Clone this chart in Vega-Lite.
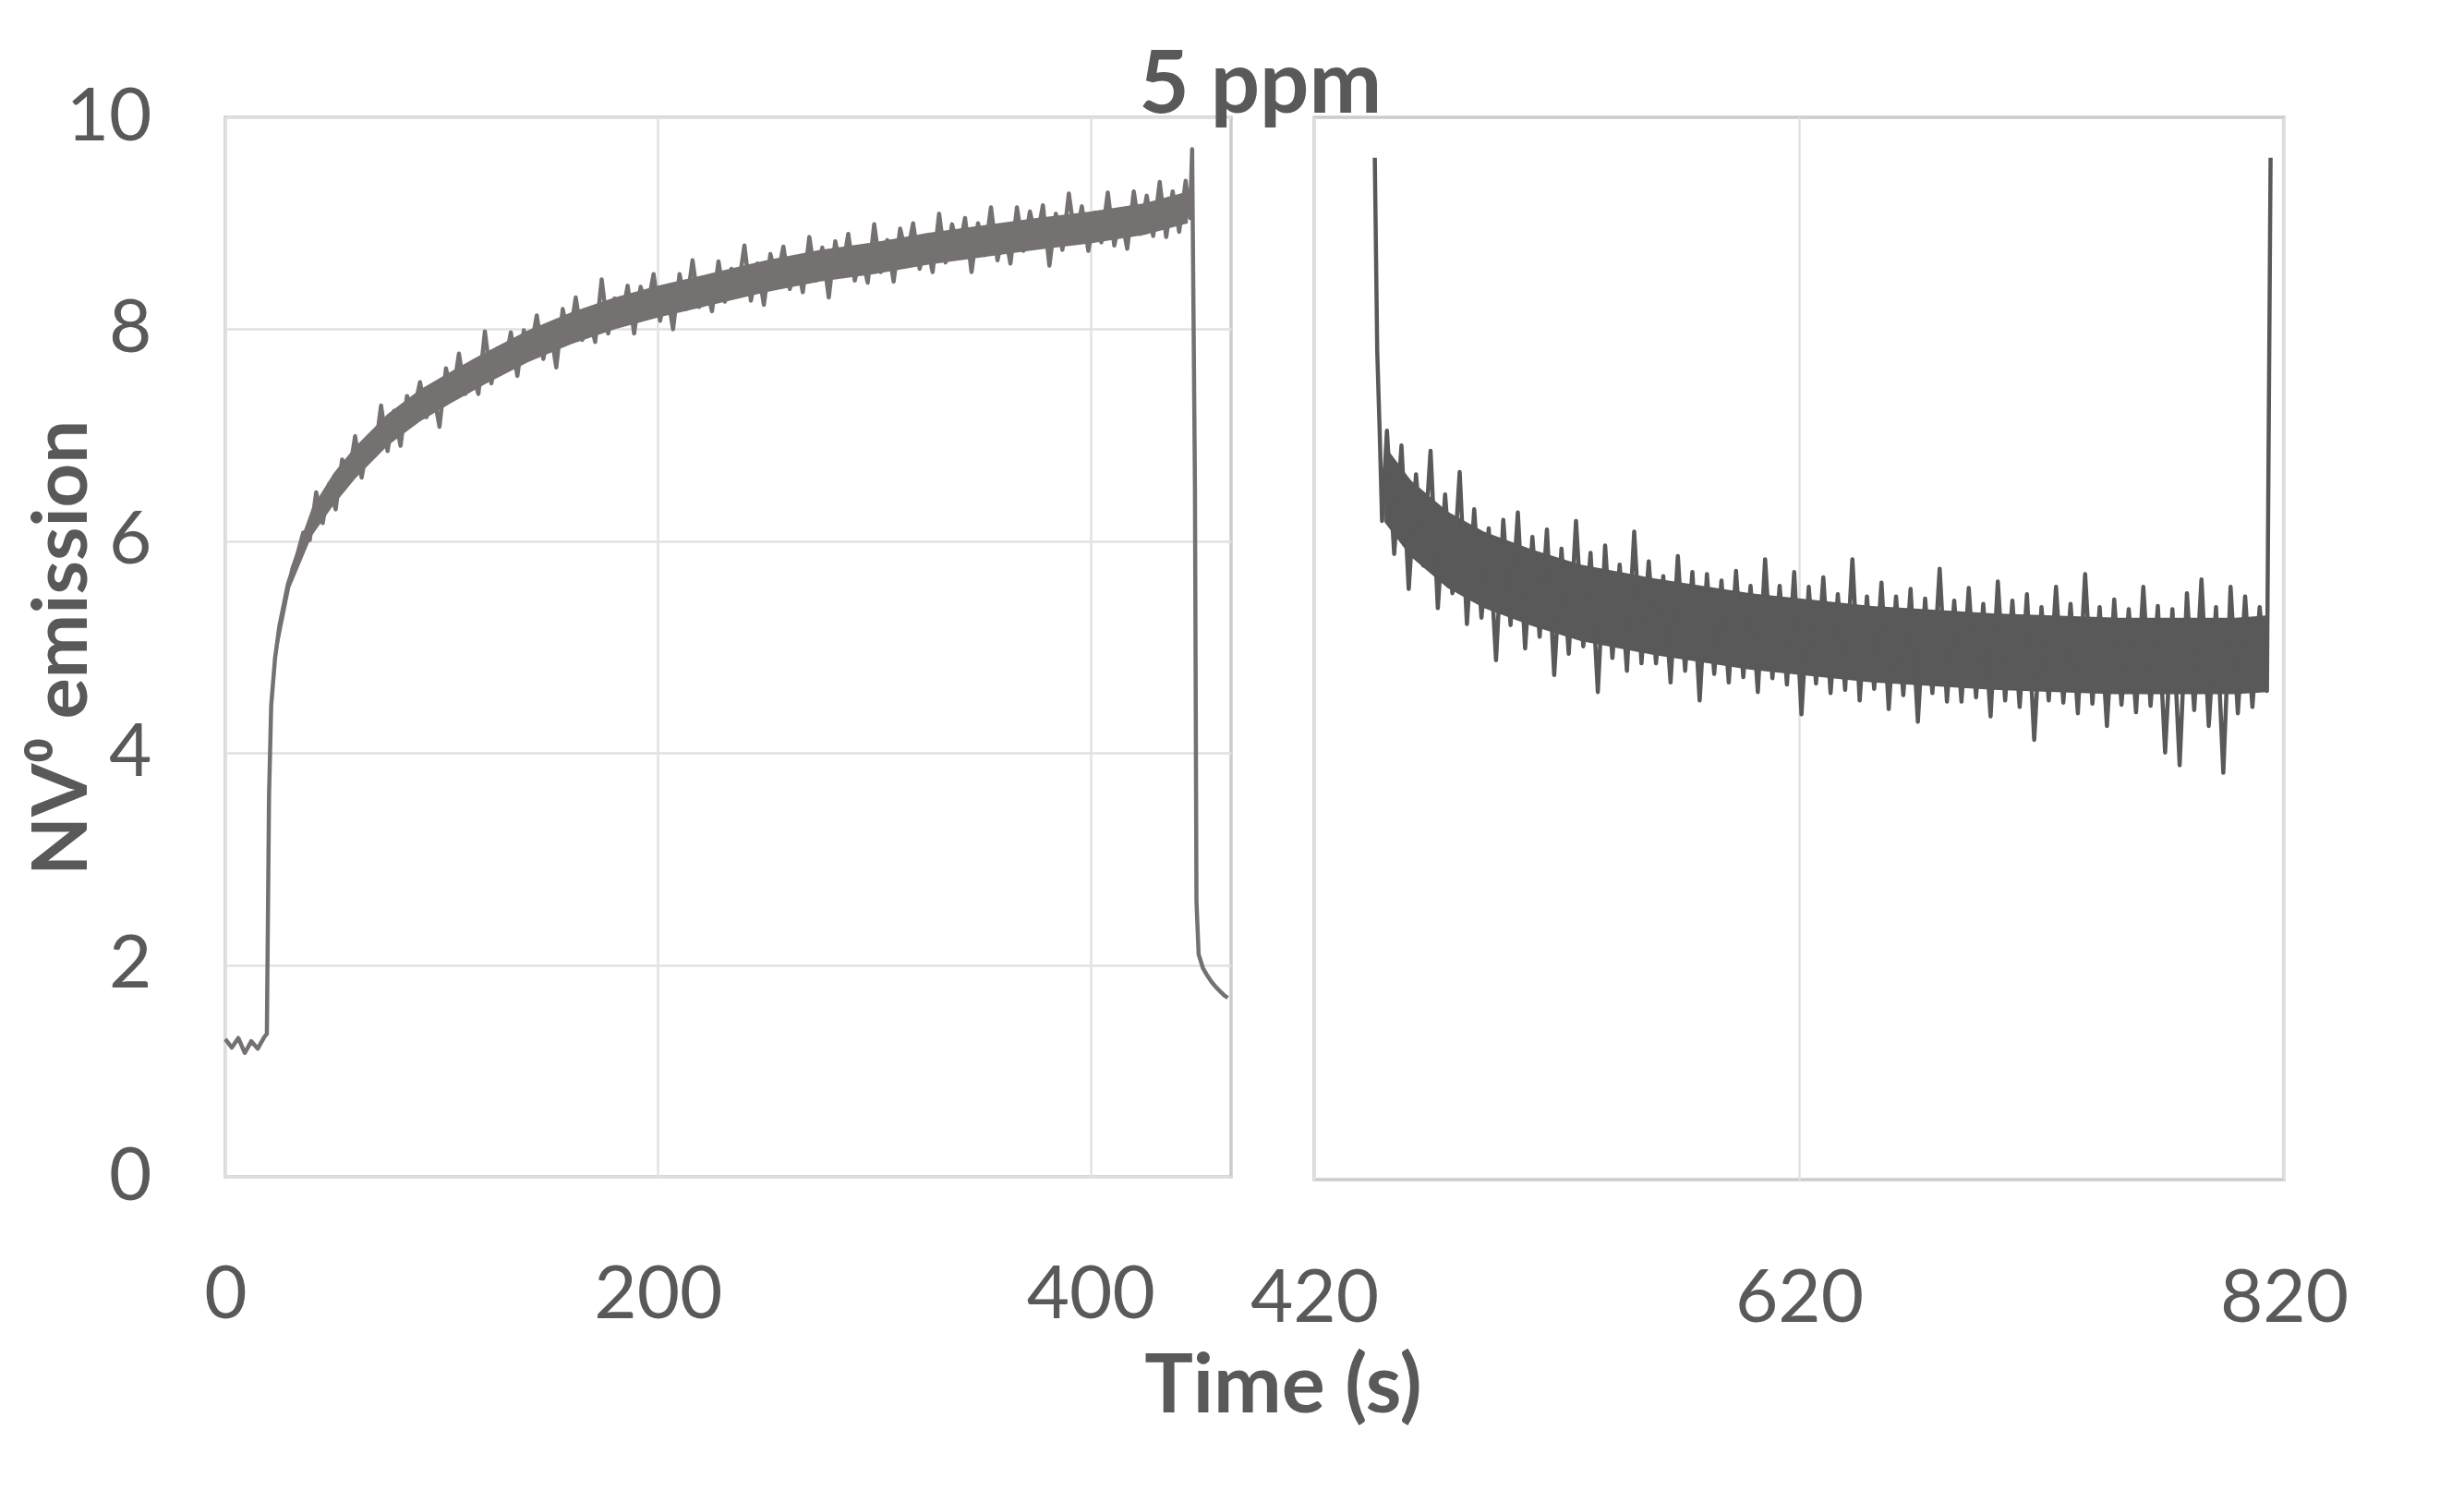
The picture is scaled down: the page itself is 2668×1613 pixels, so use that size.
{
  "$schema": "https://vega.github.io/schema/vega-lite/v6.json",
  "background": "white",
  "padding": {"left": 25, "top": 47, "right": 10, "bottom": 10},
  "config": {
    "font": "Lato",
    "view": {"stroke": "#cccccc", "strokeWidth": 3.5},
    "axis": {
      "labelFont": "Lato",
      "labelFontSize": 80,
      "labelColor": "#595959",
      "titleFont": "Lato",
      "titleColor": "#595959",
      "titleFontWeight": "bold",
      "titleFontSize": 88,
      "gridColor": "#e2e2e2",
      "gridWidth": 2.5,
      "domain": false,
      "ticks": false,
      "tickSize": 0
    }
  },
  "title": {
    "text": "5 ppm",
    "anchor": "middle",
    "fontSize": 94,
    "fontWeight": "bold",
    "color": "#595959",
    "font": "Lato",
    "baseline": "alphabetic",
    "offset": -131,
    "dx": 80
  },
  "datasets": {
    "leftBand": [
      {"t": 23, "v": 4.85, "v2": 4.95}, {"t": 30, "v": 5.56, "v2": 5.74},
      {"t": 40, "v": 6.05, "v2": 6.31}, {"t": 50, "v": 6.34, "v2": 6.64},
      {"t": 60, "v": 6.59, "v2": 6.89}, {"t": 75, "v": 6.9, "v2": 7.2},
      {"t": 90, "v": 7.13, "v2": 7.43}, {"t": 105, "v": 7.31, "v2": 7.61},
      {"t": 120, "v": 7.48, "v2": 7.78}, {"t": 140, "v": 7.69, "v2": 7.99},
      {"t": 160, "v": 7.86, "v2": 8.16}, {"t": 180, "v": 8.0, "v2": 8.3},
      {"t": 200, "v": 8.11, "v2": 8.41}, {"t": 225, "v": 8.23, "v2": 8.53},
      {"t": 250, "v": 8.35, "v2": 8.65}, {"t": 275, "v": 8.45, "v2": 8.75},
      {"t": 300, "v": 8.52, "v2": 8.82}, {"t": 325, "v": 8.61, "v2": 8.91},
      {"t": 350, "v": 8.68, "v2": 8.98}, {"t": 375, "v": 8.75, "v2": 9.05},
      {"t": 400, "v": 8.81, "v2": 9.11}, {"t": 425, "v": 8.89, "v2": 9.19},
      {"t": 445, "v": 9.0, "v2": 9.3}
    ],
    "rightBand": [
      {"t": 449, "v": 6.19, "v2": 6.91}, {"t": 460, "v": 5.86, "v2": 6.58},
      {"t": 475, "v": 5.57, "v2": 6.29}, {"t": 490, "v": 5.38, "v2": 6.1},
      {"t": 510, "v": 5.21, "v2": 5.93}, {"t": 530, "v": 5.07, "v2": 5.79},
      {"t": 560, "v": 4.94, "v2": 5.66}, {"t": 600, "v": 4.8, "v2": 5.52},
      {"t": 650, "v": 4.68, "v2": 5.4}, {"t": 700, "v": 4.61, "v2": 5.33},
      {"t": 750, "v": 4.57, "v2": 5.29}, {"t": 800, "v": 4.57, "v2": 5.29},
      {"t": 813, "v": 4.59, "v2": 5.31}
    ],
    "left": [
      {"t": 0, "v": 1.30}, {"t": 3, "v": 1.22}, {"t": 6, "v": 1.31}, {"t": 9, "v": 1.17},
      {"t": 12, "v": 1.28}, {"t": 15, "v": 1.21}, {"t": 18, "v": 1.32}, {"t": 19.2, "v": 1.35},
      {"t": 20.2, "v": 3.6}, {"t": 21.2, "v": 4.45}, {"t": 23, "v": 4.9}, {"t": 25, "v": 5.2},
      {"t": 27, "v": 5.4}, {"t": 29, "v": 5.6}, {"t": 31, "v": 5.72}, {"t": 33, "v": 5.85},
      {"t": 36, "v": 6.08}, {"t": 39, "v": 6.01}, {"t": 42, "v": 6.46}, {"t": 45, "v": 6.17},
      {"t": 48, "v": 6.54}, {"t": 51, "v": 6.30}, {"t": 54, "v": 6.77}, {"t": 57, "v": 6.6},
      {"t": 60, "v": 6.99}, {"t": 63, "v": 6.6}, {"t": 66, "v": 6.94}, {"t": 69, "v": 6.81},
      {"t": 72, "v": 7.28}, {"t": 75, "v": 6.85}, {"t": 78, "v": 7.23}, {"t": 81, "v": 6.9},
      {"t": 84, "v": 7.37}, {"t": 87, "v": 7.21}, {"t": 90, "v": 7.5}, {"t": 93, "v": 7.17},
      {"t": 96, "v": 7.43}, {"t": 99, "v": 7.08}, {"t": 102, "v": 7.63}, {"t": 105, "v": 7.36},
      {"t": 108, "v": 7.77}, {"t": 111, "v": 7.39}, {"t": 114, "v": 7.6}, {"t": 117, "v": 7.39},
      {"t": 120, "v": 7.98}, {"t": 123, "v": 7.49}, {"t": 126, "v": 7.82}, {"t": 129, "v": 7.64},
      {"t": 132, "v": 7.97}, {"t": 135, "v": 7.56}, {"t": 138, "v": 7.99}, {"t": 141, "v": 7.79},
      {"t": 144, "v": 8.13}, {"t": 147, "v": 7.72}, {"t": 150, "v": 8.04}, {"t": 153, "v": 7.64},
      {"t": 156, "v": 8.19}, {"t": 159, "v": 7.89}, {"t": 162, "v": 8.3}, {"t": 165, "v": 7.9},
      {"t": 168, "v": 8.14}, {"t": 171, "v": 7.88}, {"t": 174, "v": 8.47}, {"t": 177, "v": 7.96},
      {"t": 180, "v": 8.29}, {"t": 183, "v": 8.07}, {"t": 186, "v": 8.41}, {"t": 189, "v": 7.96},
      {"t": 192, "v": 8.4}, {"t": 195, "v": 8.19}, {"t": 198, "v": 8.52}, {"t": 201, "v": 8.08},
      {"t": 204, "v": 8.39}, {"t": 207, "v": 8.0}, {"t": 210, "v": 8.52}, {"t": 213, "v": 8.19},
      {"t": 216, "v": 8.65}, {"t": 219, "v": 8.21}, {"t": 222, "v": 8.44}, {"t": 225, "v": 8.17},
      {"t": 228, "v": 8.64}, {"t": 231, "v": 8.26}, {"t": 234, "v": 8.57}, {"t": 237, "v": 8.36},
      {"t": 240, "v": 8.79}, {"t": 243, "v": 8.27}, {"t": 246, "v": 8.62}, {"t": 249, "v": 8.23},
      {"t": 252, "v": 8.71}, {"t": 255, "v": 8.46}, {"t": 258, "v": 8.78}, {"t": 261, "v": 8.38},
      {"t": 264, "v": 8.66}, {"t": 267, "v": 8.35}, {"t": 270, "v": 8.87}, {"t": 273, "v": 8.46},
      {"t": 276, "v": 8.77}, {"t": 279, "v": 8.3}, {"t": 282, "v": 8.83}, {"t": 285, "v": 8.52},
      {"t": 288, "v": 8.9}, {"t": 291, "v": 8.46}, {"t": 294, "v": 8.72}, {"t": 297, "v": 8.44},
      {"t": 300, "v": 8.99}, {"t": 303, "v": 8.54}, {"t": 306, "v": 8.84}, {"t": 309, "v": 8.45},
      {"t": 312, "v": 8.95}, {"t": 315, "v": 8.68}, {"t": 318, "v": 9.0}, {"t": 321, "v": 8.57},
      {"t": 324, "v": 8.86}, {"t": 327, "v": 8.54}, {"t": 330, "v": 9.09}, {"t": 333, "v": 8.63},
      {"t": 336, "v": 8.99}, {"t": 339, "v": 8.72}, {"t": 342, "v": 9.05}, {"t": 345, "v": 8.54},
      {"t": 348, "v": 9.0}, {"t": 351, "v": 8.7}, {"t": 354, "v": 9.15}, {"t": 357, "v": 8.65},
      {"t": 360, "v": 8.96}, {"t": 363, "v": 8.62}, {"t": 366, "v": 9.15}, {"t": 369, "v": 8.74},
      {"t": 372, "v": 9.11}, {"t": 375, "v": 8.83}, {"t": 378, "v": 9.17}, {"t": 381, "v": 8.6},
      {"t": 384, "v": 9.09}, {"t": 387, "v": 8.75}, {"t": 390, "v": 9.28}, {"t": 393, "v": 8.83},
      {"t": 396, "v": 9.16}, {"t": 399, "v": 8.74}, {"t": 402, "v": 9.1}, {"t": 405, "v": 8.82},
      {"t": 408, "v": 9.29}, {"t": 411, "v": 8.79}, {"t": 414, "v": 9.08}, {"t": 417, "v": 8.76},
      {"t": 420, "v": 9.3}, {"t": 423, "v": 8.9}, {"t": 426, "v": 9.26}, {"t": 429, "v": 8.88},
      {"t": 432, "v": 9.39}, {"t": 435, "v": 8.87}, {"t": 438, "v": 9.3}, {"t": 441, "v": 8.92},
      {"t": 444, "v": 9.4}, {"t": 446, "v": 9.05}, {"t": 447, "v": 9.7}, {"t": 448.3, "v": 6.5},
      {"t": 449, "v": 2.6}, {"t": 450, "v": 2.1}, {"t": 452, "v": 1.97}, {"t": 454, "v": 1.9},
      {"t": 456, "v": 1.84}, {"t": 458, "v": 1.79}, {"t": 460, "v": 1.75}, {"t": 462, "v": 1.71},
      {"t": 463.5, "v": 1.69}
    ],
    "right": [
      {"t": 445, "v": 9.62}, {"t": 446, "v": 7.8}, {"t": 447, "v": 7.05}, {"t": 448, "v": 6.2},
      {"t": 450, "v": 7.05}, {"t": 453, "v": 5.89}, {"t": 456, "v": 6.91}, {"t": 459, "v": 5.56},
      {"t": 462, "v": 6.64}, {"t": 465, "v": 5.78}, {"t": 468, "v": 6.86}, {"t": 471, "v": 5.38},
      {"t": 474, "v": 6.45}, {"t": 477, "v": 5.52}, {"t": 480, "v": 6.66}, {"t": 483, "v": 5.23},
      {"t": 486, "v": 6.31}, {"t": 489, "v": 5.29}, {"t": 492, "v": 6.13}, {"t": 495, "v": 4.89},
      {"t": 498, "v": 6.21}, {"t": 501, "v": 5.22}, {"t": 504, "v": 6.28}, {"t": 507, "v": 5.0},
      {"t": 510, "v": 6.05}, {"t": 513, "v": 5.11}, {"t": 516, "v": 6.12}, {"t": 519, "v": 4.75},
      {"t": 522, "v": 5.94}, {"t": 525, "v": 4.95}, {"t": 528, "v": 6.2}, {"t": 531, "v": 5.02},
      {"t": 534, "v": 5.9}, {"t": 537, "v": 4.59}, {"t": 540, "v": 5.97}, {"t": 543, "v": 4.91},
      {"t": 546, "v": 5.79}, {"t": 549, "v": 4.79}, {"t": 552, "v": 6.1}, {"t": 555, "v": 4.86},
      {"t": 558, "v": 5.82}, {"t": 561, "v": 4.86}, {"t": 564, "v": 5.68}, {"t": 567, "v": 4.68},
      {"t": 570, "v": 5.87}, {"t": 573, "v": 4.79}, {"t": 576, "v": 5.72}, {"t": 579, "v": 4.51},
      {"t": 582, "v": 5.7}, {"t": 585, "v": 4.76}, {"t": 588, "v": 5.64}, {"t": 591, "v": 4.68},
      {"t": 594, "v": 5.73}, {"t": 597, "v": 4.73}, {"t": 600, "v": 5.59}, {"t": 603, "v": 4.59},
      {"t": 606, "v": 5.84}, {"t": 609, "v": 4.72}, {"t": 612, "v": 5.59}, {"t": 615, "v": 4.66},
      {"t": 618, "v": 5.72}, {"t": 621, "v": 4.38}, {"t": 624, "v": 5.58}, {"t": 627, "v": 4.67},
      {"t": 630, "v": 5.67}, {"t": 633, "v": 4.58}, {"t": 636, "v": 5.51}, {"t": 639, "v": 4.61},
      {"t": 642, "v": 5.84}, {"t": 645, "v": 4.51}, {"t": 648, "v": 5.49}, {"t": 651, "v": 4.62},
      {"t": 654, "v": 5.62}, {"t": 657, "v": 4.43}, {"t": 660, "v": 5.49}, {"t": 663, "v": 4.56},
      {"t": 666, "v": 5.56}, {"t": 669, "v": 4.31}, {"t": 672, "v": 5.47}, {"t": 675, "v": 4.58},
      {"t": 678, "v": 5.75}, {"t": 681, "v": 4.5}, {"t": 684, "v": 5.45}, {"t": 687, "v": 4.5},
      {"t": 690, "v": 5.57}, {"t": 693, "v": 4.54}, {"t": 696, "v": 5.42}, {"t": 699, "v": 4.36},
      {"t": 702, "v": 5.63}, {"t": 705, "v": 4.51}, {"t": 708, "v": 5.45}, {"t": 711, "v": 4.45},
      {"t": 714, "v": 5.51}, {"t": 717, "v": 4.14}, {"t": 720, "v": 5.39}, {"t": 723, "v": 4.51},
      {"t": 726, "v": 5.58}, {"t": 729, "v": 4.49}, {"t": 732, "v": 5.42}, {"t": 735, "v": 4.39},
      {"t": 738, "v": 5.7}, {"t": 741, "v": 4.48}, {"t": 744, "v": 5.39}, {"t": 747, "v": 4.27},
      {"t": 750, "v": 5.46}, {"t": 753, "v": 4.47}, {"t": 756, "v": 5.37}, {"t": 759, "v": 4.4},
      {"t": 762, "v": 5.58}, {"t": 765, "v": 4.46}, {"t": 768, "v": 5.4}, {"t": 771, "v": 4.02},
      {"t": 774, "v": 5.37}, {"t": 777, "v": 3.9}, {"t": 780, "v": 5.52}, {"t": 783, "v": 4.42},
      {"t": 786, "v": 5.65}, {"t": 789, "v": 4.27}, {"t": 792, "v": 5.39}, {"t": 795, "v": 3.83},
      {"t": 798, "v": 5.58}, {"t": 801, "v": 4.39}, {"t": 804, "v": 5.49}, {"t": 807, "v": 4.45},
      {"t": 810, "v": 5.39}, {"t": 813, "v": 4.6}, {"t": 814.5, "v": 9.62}
    ]
  },
  "hconcat": [
    {
      "width": 1089,
      "height": 1147,
      "encoding": {
        "x": {
          "field": "t",
          "type": "quantitative",
          "scale": {"domain": [0, 465], "nice": false, "zero": false},
          "axis": {
            "values": [0, 200, 400],
            "labelPadding": 152,
            "labelBaseline": "alphabetic",
            "labelFlush": false,
            "title": "Time (s)",
            "titleX": 1145,
            "titleY": 254,
            "titleBaseline": "alphabetic",
            "titleAlign": "center"
          }
        },
        "y": {
          "field": "v",
          "type": "quantitative",
          "scale": {"domain": [0, 10], "nice": false},
          "axis": {
            "values": [0, 2, 4, 6, 8, 10],
            "labelPadding": 80,
            "labelBaseline": "middle",
            "title": "NV⁰ emission",
            "titleFontSize": 83,
            "titleX": -176,
            "titleY": 574,
            "titleAngle": -90,
            "titleBaseline": "middle",
            "titleAlign": "center"
          }
        }
      },
      "layer": [
        {
          "data": {"name": "leftBand"},
          "mark": {"type": "area", "color": "#767171", "opacity": 1},
          "encoding": {"y2": {"field": "v2"}}
        },
        {
          "data": {"name": "left"},
          "mark": {"type": "line", "color": "#767171", "strokeWidth": 4.5, "strokeJoin": "round"}
        }
      ]
    },
    {
      "width": 1050,
      "height": 1150,
      "encoding": {
        "x": {
          "field": "t",
          "type": "quantitative",
          "scale": {"domain": [420, 820], "nice": false, "zero": false},
          "axis": {
            "values": [420, 620, 820],
            "labelPadding": 153,
            "labelBaseline": "alphabetic",
            "labelFlush": false,
            "title": null
          }
        },
        "y": {
          "field": "v",
          "type": "quantitative",
          "scale": {"domain": [0, 10], "nice": false},
          "axis": null
        }
      },
      "layer": [
        {
          "data": {"name": "rightBand"},
          "mark": {"type": "area", "color": "#595959", "opacity": 1},
          "encoding": {"y2": {"field": "v2"}}
        },
        {
          "data": {"name": "right"},
          "mark": {"type": "line", "color": "#595959", "strokeWidth": 4.5, "strokeJoin": "round"}
        }
      ]
    }
  ],
  "spacing": 90,
  "bounds": "flush"
}
